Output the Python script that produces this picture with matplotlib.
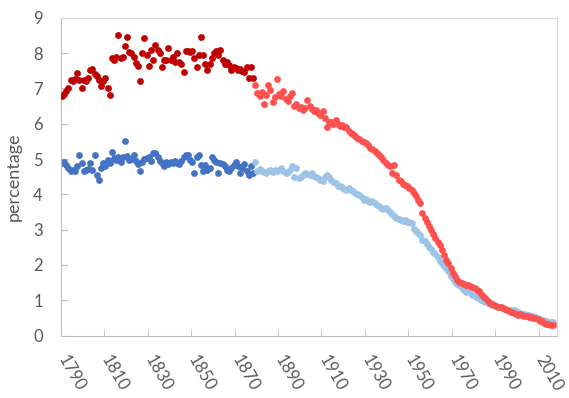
import matplotlib
matplotlib.use("Agg")
import matplotlib.pyplot as plt
from matplotlib.ticker import FixedLocator

plt.rcParams['font.family'] = ['Lato', 'DejaVu Sans']

# years: dark segment 1790-1878, light segment 1879-2016
early_start, early_end = 1790, 1878
late_start, late_end = 1879, 2016

red_early = [
    6.80, 6.85, 6.94, 7.00, 7.25, 7.22, 7.28, 7.45, 7.25, 7.00,
    7.25, 7.22, 7.30, 7.53, 7.55, 7.40, 7.35, 7.25, 7.08, 7.20,
    7.30, 7.00, 6.82, 7.86, 7.82, 7.90, 8.52, 7.86, 7.90, 8.20,
    8.45, 8.02, 8.00, 7.88, 7.72, 7.65, 7.20, 8.00, 8.43, 7.95,
    7.65, 8.10, 7.80, 8.24, 8.10, 8.00, 7.62, 7.81, 7.81, 8.14,
    7.81, 7.90, 7.75, 8.00, 7.75, 7.70, 7.48, 8.05, 8.05, 8.02,
    8.05, 7.86, 7.62, 7.95, 8.47, 7.95, 7.70, 7.52, 7.70, 7.85,
    8.00, 8.05, 7.95, 8.10, 7.81, 7.70, 7.76, 7.67, 7.52, 7.60,
    7.57, 7.52, 7.55, 7.50, 7.48, 7.62, 7.29, 7.62, 7.29,
]

red_late = [
    7.10, 6.87, 6.80, 6.90, 6.56, 6.82, 7.10, 6.95, 6.63, 6.75,
    7.27, 6.83, 6.80, 6.92, 6.70, 6.64, 6.80, 6.87, 6.49, 6.55,
    6.45, 6.48, 6.40, 6.45, 6.68, 6.50, 6.42, 6.35, 6.38, 6.30,
    6.25, 6.35, 6.16, 5.92, 6.05, 6.06, 6.00, 6.10, 5.98, 5.95,
    5.97, 5.90, 5.92, 5.80, 5.74, 5.70, 5.65, 5.60, 5.58, 5.50,
    5.48, 5.45, 5.40, 5.31, 5.28, 5.22, 5.18, 5.12, 5.05, 4.98,
    4.90, 4.84, 4.79, 4.60, 4.84, 4.55, 4.41, 4.37, 4.30, 4.27,
    4.25, 4.18, 4.13, 4.04, 3.94, 3.85, 3.75, 3.47, 3.33, 3.23,
    3.10, 3.00, 2.88, 2.76, 2.66, 2.57, 2.43, 2.29, 2.15, 2.05,
    1.91, 1.77, 1.68, 1.58, 1.52, 1.49, 1.46, 1.44, 1.42, 1.40,
    1.38, 1.35, 1.30, 1.25, 1.18, 1.11, 1.05, 0.97, 0.93, 0.90,
    0.87, 0.84, 0.82, 0.80, 0.78, 0.76, 0.73, 0.70, 0.66, 0.64,
    0.62, 0.59, 0.60, 0.59, 0.56, 0.54, 0.53, 0.52, 0.51, 0.50,
    0.47, 0.42, 0.40, 0.36, 0.33, 0.32, 0.30, 0.31,
]

blue_early = [
    4.89, 4.93, 4.83, 4.74, 4.65, 4.70, 4.65, 4.80, 5.12, 4.89,
    4.65, 4.70, 4.72, 4.89, 4.70, 5.12, 4.55, 4.41, 4.74, 4.89,
    4.80, 4.98, 4.90, 5.21, 5.03, 4.98, 5.05, 4.93, 5.07, 5.50,
    5.10, 4.98, 5.00, 5.12, 4.95, 4.85, 4.65, 4.93, 5.00, 5.03,
    5.07, 4.95, 5.17, 5.17, 5.05, 4.95, 4.89, 4.79, 4.93, 4.85,
    4.93, 4.89, 4.95, 4.90, 4.85, 4.95, 5.05, 5.12, 5.12, 4.98,
    4.93, 4.60, 5.07, 5.12, 4.84, 4.65, 4.84, 4.70, 4.74, 5.07,
    4.98, 4.93, 4.60, 4.89, 4.85, 4.79, 4.70, 4.65, 4.74, 4.84,
    4.93, 4.80, 4.60, 4.75, 4.85, 4.65, 4.55, 4.80, 4.60,
]

blue_late = [
    4.93, 4.65, 4.72, 4.65, 4.62, 4.60, 4.65, 4.70, 4.62, 4.68,
    4.66, 4.70, 4.75, 4.65, 4.60, 4.62, 4.70, 4.79, 4.50, 4.74,
    4.46, 4.48, 4.55, 4.60, 4.58, 4.55, 4.60, 4.52, 4.50, 4.45,
    4.41, 4.37, 4.50, 4.55, 4.48, 4.40, 4.35, 4.32, 4.23, 4.25,
    4.20, 4.15, 4.13, 4.18, 4.12, 4.10, 4.05, 4.02, 3.99, 3.92,
    3.85, 3.88, 3.82, 3.78, 3.80, 3.75, 3.70, 3.66, 3.62, 3.58,
    3.60, 3.56, 3.50, 3.45, 3.40, 3.33, 3.30, 3.28, 3.25, 3.26,
    3.23, 3.22, 3.20, 3.02, 2.95, 2.90, 2.86, 2.72, 2.67, 2.58,
    2.52, 2.45, 2.38, 2.30, 2.22, 2.12, 2.05, 1.98, 1.90, 1.82,
    1.68, 1.60, 1.52, 1.47, 1.42, 1.36, 1.28, 1.24, 1.25, 1.22,
    1.16, 1.12, 1.08, 1.06, 1.02, 0.97, 0.95, 0.92, 0.90, 0.87,
    0.86, 0.84, 0.82, 0.80, 0.78, 0.75, 0.73, 0.73, 0.72, 0.73,
    0.70, 0.66, 0.64, 0.62, 0.60, 0.59, 0.57, 0.55, 0.54, 0.52,
    0.50, 0.48, 0.45, 0.43, 0.41, 0.39, 0.38, 0.37,
]

tick_years = list(range(1790, 2011, 20))

years_early = list(range(early_start, early_end + 1))
years_late = list(range(late_start, late_end + 1))

text_color = '#595959'
axis_color = '#BFBFBF'
dot = 24

fig = plt.figure(figsize=(5.69, 3.98), dpi=100)
ax = fig.add_axes([0.107, 0.157, 0.872, 0.798])

ax.scatter(years_early, blue_early, s=dot, color='#4472C4', linewidths=0, zorder=2)
ax.scatter(years_late, blue_late, s=dot, color='#9DC3E6', linewidths=0, zorder=2)
ax.scatter(years_early, red_early, s=dot, color='#C00000', linewidths=0, zorder=3)
ax.scatter(years_late, red_late, s=dot, color='#FF5050', linewidths=0, zorder=3)

ax.set_xlim(1789.5, 2018)
ax.set_ylim(0, 9)
ax.set_yticks(range(0, 10))

# labels sit on the category, tick marks sit between groups of 20
ax.set_xticks(tick_years)
ax.xaxis.set_minor_locator(FixedLocator([y + 19.5 for y in tick_years]))
ax.tick_params(axis='x', which='major', length=0, pad=15, labelsize=12, labelcolor=text_color)
ax.tick_params(axis='x', which='minor', direction='in', length=5, color=axis_color)
ax.tick_params(axis='y', direction='in', length=5, color=axis_color, pad=13,
               labelsize=12, labelcolor=text_color)
for lab in ax.get_xticklabels():
    lab.set_rotation(-60)
    lab.set_ha('left')
    lab.set_va('center')
    lab.set_rotation_mode('anchor')

for side in ['left', 'bottom']:
    ax.spines[side].set_color(axis_color)
for side in ['top', 'right']:
    ax.spines[side].set_color('#D9D9D9')

ax.set_ylabel('percentage', fontsize=13, color=text_color, labelpad=8)

fig.savefig('out.png', dpi=100)
